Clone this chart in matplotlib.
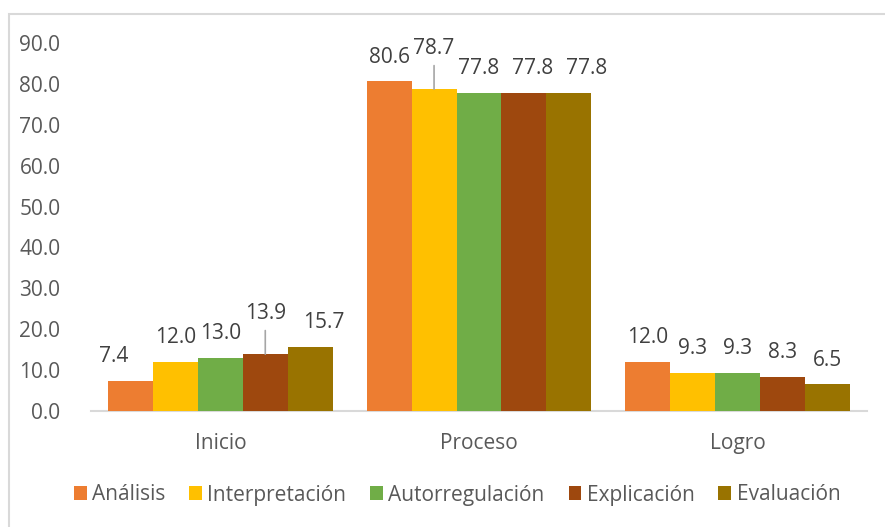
import numpy as np
import matplotlib.pyplot as plt
from matplotlib.patches import Rectangle

plt.rcParams['font.family'] = ['Open Sans', 'DejaVu Sans']

categorias = ["Inicio", "Proceso", "Logro"]
series = ["Análisis", "Interpretación", "Autorregulación", "Explicación", "Evaluación"]
analisis = [7.4, 80.6, 12.0]
interpretacion = [12.0, 78.7, 9.3]
autorregulacion = [13.0, 77.8, 9.3]
explicacion = [13.9, 77.8, 8.3]
evaluacion = [15.7, 77.8, 6.5]
colores = ["#ED7D31", "#FFC000", "#70AD47", "#9E480E", "#997300"]

# labels pushed up with a leader line: (serie, categoria)
desplazadas = {(3, 0), (1, 1)}
# sideways nudges of some labels (points), like excel moved them
corrimiento = {(0, 0): -12, (4, 0): 10, (3, 1): 6.5, (4, 1): 13}

valores = [analisis, interpretacion, autorregulacion, explicacion, evaluacion]

fig = plt.figure(figsize=(8.85, 5.27), dpi=100)
ax = fig.add_axes([91/885, 1-411/527, (867-91)/885, (411-43)/527])

x = np.arange(len(categorias))
w = 45/259
for i, (nom, vals) in enumerate(zip(series, valores)):
    pos = x + (i - 2) * w
    ax.bar(pos, vals, w, color=colores[i], label=nom, zorder=2)
    for j, v in enumerate(vals):
        if (i, j) in desplazadas:
            ax.annotate("", xy=(pos[j], v), xytext=(0, 17), textcoords="offset points",
                        arrowprops=dict(arrowstyle="-", color="#A6A6A6", lw=1.2,
                                        shrinkA=0, shrinkB=0))
            off = 29
        else:
            off = 17.5
        dx = corrimiento.get((i, j), 0)
        ax.annotate(f"{v:.1f}", xy=(pos[j], v), xytext=(dx, off), textcoords="offset points",
                    ha="center", va="center", fontsize=15, color="#404040")

ax.set_xlim(-0.5, 2.5)
ax.set_ylim(0, 90)
ax.set_yticks(np.arange(0, 91, 10))
ax.set_yticklabels([f"{t:.1f}" for t in np.arange(0, 91, 10)])
ax.set_xticks(x)
ax.set_xticklabels(categorias)
ax.tick_params(axis="y", length=0, pad=22, labelsize=15, labelcolor="#595959")
ax.tick_params(axis="x", length=0, pad=16, labelsize=15, labelcolor="#595959")
for s in ["top", "right", "left"]:
    ax.spines[s].set_visible(False)
ax.spines["bottom"].set_color("#D9D9D9")
ax.spines["bottom"].set_linewidth(1.5)
ax.spines["bottom"].set_zorder(1)

fig.legend(loc="center", bbox_to_anchor=(457/885, 1-495/527), ncol=5, frameon=False,
           fontsize=15, labelcolor="#595959", handlelength=0.62, handleheight=0.62,
           handletextpad=0.25, columnspacing=1.15, borderaxespad=0)

fig.patches.append(Rectangle((9/885, -0.1), 1.2, 1.1 - 13.5/527, transform=fig.transFigure,
                             fill=False, edgecolor="#D9D9D9", lw=1.5))

fig.savefig("out.png", dpi=100)
